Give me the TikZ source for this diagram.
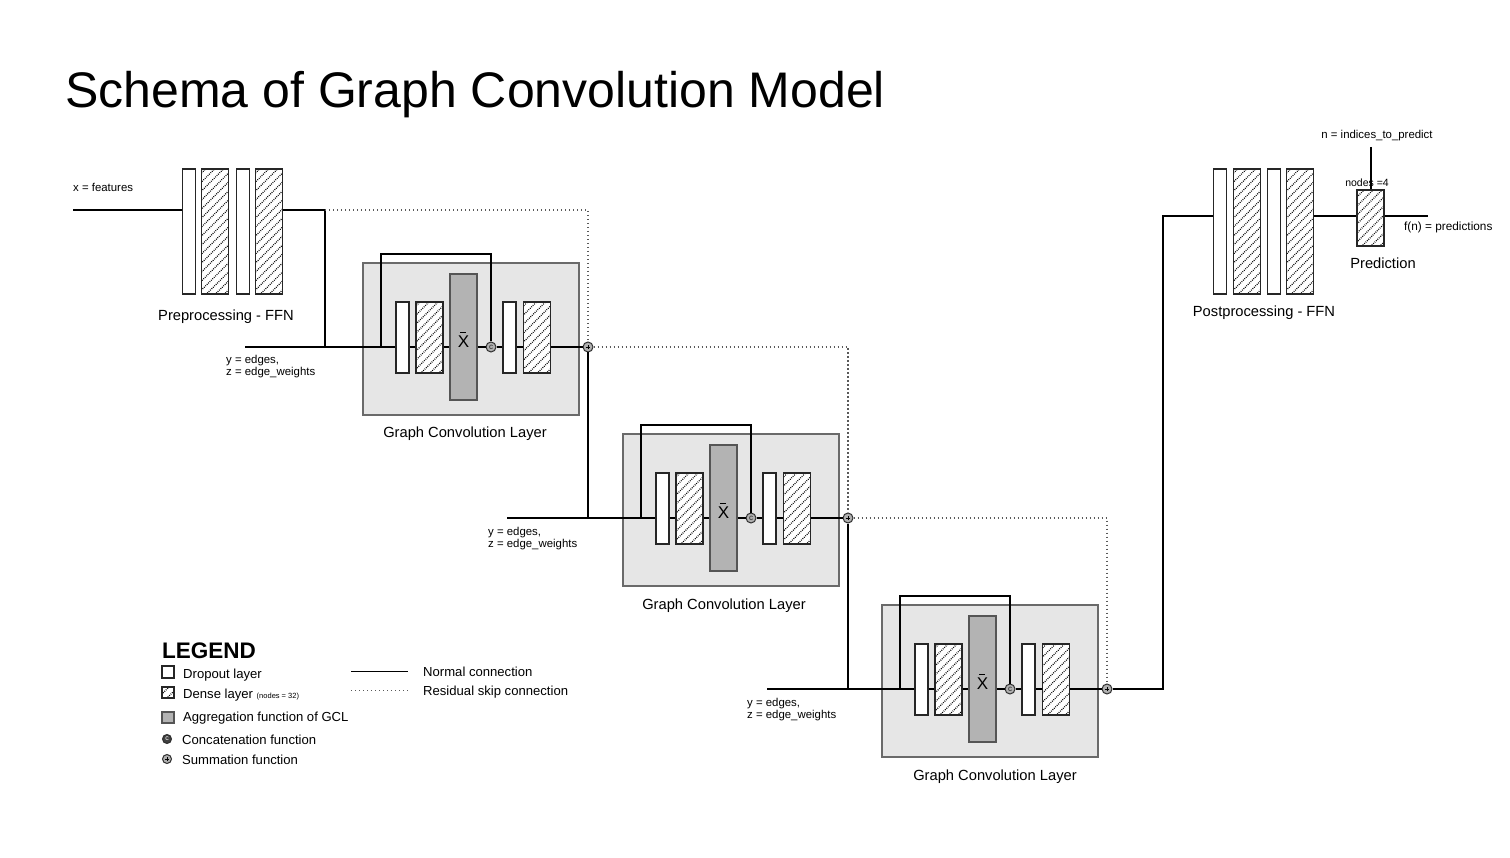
\documentclass[tikz,border=0pt]{standalone}
\usepackage{fontspec}
\setmainfont{Liberation Sans}
\definecolor{boxfill}{HTML}{E6E6E6}
\definecolor{boxline}{HTML}{6A6A6A}
\definecolor{aggfill}{HTML}{B3B3B3}
\definecolor{aggline}{HTML}{555555}
\definecolor{circfill}{HTML}{B0B0B0}
\definecolor{circline}{HTML}{303030}
\begin{document}
\begin{tikzpicture}[x=1pt,y=-1pt,
  conn/.style={draw=black, line width=1.2pt},
  thickconn/.style={draw=black, line width=2.2pt},
  skip/.style={draw=black!65, line width=1.3pt, dash pattern=on 1.3pt off 2.7pt},
  dotband/.style={black, line width=1.3pt, dash pattern=on 0.8pt off 1.2pt},
  dropout/.style={draw=black!85, fill=white, line width=1.1pt, inner sep=0pt, minimum width=13pt, minimum height=#1},
  dropout/.default=71pt,
  dense/.style={draw=black!85, fill=white, line width=1.1pt, inner sep=0pt, minimum width=27pt, minimum height=#1,
    path picture={\foreach \k in {-150,-141,...,40}{\draw[dotband] ([xshift=\k pt,yshift=-2pt]path picture bounding box.south west) -- ++(170pt,170pt);}}},
  dense/.default=71pt,
  agg/.style={draw=aggline, fill=aggfill, line width=1.1pt, inner sep=0pt, minimum width=27pt, minimum height=#1},
  agg/.default=126pt,
  gbox/.style={draw=boxline, fill=boxfill, line width=1.4pt, inner sep=0pt, minimum width=216pt, minimum height=152pt},
  catc/.style={circle, draw=circline, fill=circfill, line width=1pt, inner sep=0pt, minimum size=10pt, text=black!85,
    font=\fontsize{8}{8}\selectfont},
  sumc/.style={circle, draw=circline, fill=circfill, line width=1pt, inner sep=0pt, minimum size=10pt,
    path picture={\draw[black, line width=0.7pt] ([xshift=-2.3pt]path picture bounding box.center) -- ([xshift=2.3pt]path picture bounding box.center);
                  \draw[black, line width=0.7pt] ([yshift=-2.3pt]path picture bounding box.center) -- ([yshift=2.3pt]path picture bounding box.center);}},
  lbl/.style={inner sep=0pt, font=\fontsize{11.4}{13}\selectfont},
  mid/.style={inner sep=0pt, font=\fontsize{14.7}{17}\selectfont},
  leg/.style={inner sep=0pt, font=\fontsize{13.1}{15}\selectfont},
]
\useasboundingbox (0,0) rectangle (1510,858);

% title
\node[inner sep=0pt, anchor=base west, font=\fontsize{50}{56}\selectfont] (title) at (65,108) {Schema of Graph Convolution Model};

% preprocessing FFN
\node[dropout=125pt] (pp1) at (189,231.5) {};
\node[dense=125pt] (pp2) at (215,231.5) {};
\node[dropout=125pt] (pp3) at (243,231.5) {};
\node[dense=125pt] (pp4) at (269,231.5) {};
\node[mid, anchor=base] (pplbl) at (226,321) {Preprocessing - FFN};
\node[lbl, anchor=base west] (xlbl) at (73,192) {x = features};
\coordinate (xin) at (73,210);
\coordinate (j1) at (325,210);

% graph convolution layers
\foreach \i/\dx/\dy/\lx in {1/0/0/465, 2/260/171/464, 3/519/342/476}{
  \begin{scope}[shift={(\dx,\dy)}]
    \node[gbox] (g\i) at (471,339) {};
    \node[dropout] (g\i d1) at (402.5,337.5) {};
    \node[dense] (g\i n1) at (429.5,337.5) {};
    \node[agg] (g\i a) at (463.5,337) {};
    \node[inner sep=0pt, anchor=base, font=\fontsize{17}{19}\selectfont] (g\i x) at (463.5,347.5) {X};
    \draw[black, line width=1.2pt] ([xshift=-3.5pt,yshift=3pt]g\i x.north) -- ([xshift=2.5pt,yshift=3pt]g\i x.north);
    \node[dropout] (g\i d2) at (509.5,337.5) {};
    \node[dense] (g\i n2) at (537,337.5) {};
    \node[catc] (g\i c) at (491,347) {c};
    \node[sumc] (g\i s) at (588,347) {};
    \coordinate (g\i l) at (381,347);
    \coordinate (g\i t) at (381,254);
    \node[mid, anchor=base] (g\i lbl) at (\lx,438) {Graph Convolution Layer};
  \end{scope}
  \draw[conn] (g\i d1.east |- g\i c) -- (g\i n1.west |- g\i c);
  \draw[conn] (g\i n1.east |- g\i c) -- (g\i a.west |- g\i c);
  \draw[thickconn] (g\i a.east |- g\i c) -- (g\i c);
  \draw[thickconn] (g\i c) -- (g\i d2.west |- g\i c);
  \draw[conn] (g\i d2.east |- g\i c) -- (g\i n2.west |- g\i c);
  \draw[conn] (g\i n2.east |- g\i c) -- (g\i s);
  \draw[conn] (g\i l) -- (g\i t) -| (g\i c);
}

% edge inputs
\coordinate (e1) at (245,347);
\coordinate (e2) at (507,518);
\coordinate (e3) at (767,689);
\node[lbl, anchor=base west] (y1) at (226,364) {y = edges,};
\node[lbl, anchor=base west] (z1) at (226,376) {z = edge\_weights};
\node[lbl, anchor=base west] (y2) at (488,535) {y = edges,};
\node[lbl, anchor=base west] (z2) at (488,547) {z = edge\_weights};
\node[lbl, anchor=base west] (y3) at (747,706) {y = edges,};
\node[lbl, anchor=base west] (z3) at (747,718) {z = edge\_weights};

% connections
\draw[conn] (xin) -- (pp1.west |- xin);
\draw[conn] (pp4.east |- j1) -- (j1) -- (j1 |- g1c);
\draw[conn] (e1) -- (g1d1.west |- g1c);
\draw[skip] (j1) -| (g1s);

\draw[conn] (g1s) -- (g1s |- g2c) -- (g2d1.west |- g2c);
\draw[conn] (e2) -- (g1s |- g2c);
\draw[skip] (g1s) -- (g1s -| g2s) -- (g2s);

\draw[conn] (g2s) -- (g2s |- g3c) -- (g3d1.west |- g3c);
\draw[conn] (e3) -- (g2s |- g3c);
\draw[skip] (g2s) -- (g2s -| g3s) -- (g3s);

% postprocessing FFN
\node[dropout=125pt] (po1) at (1220,231.5) {};
\node[dense=125pt] (po2) at (1247,231.5) {};
\node[dropout=125pt] (po3) at (1274,231.5) {};
\node[dense=125pt] (po4) at (1300,231.5) {};
\node[mid, anchor=base] (polbl) at (1264,317) {Postprocessing - FFN};
\coordinate (k) at (1163,216);
\draw[conn] (g3s) -| (k) -- (po1.west |- k);

% prediction
\node[dense=56pt] (pr) at (1370.5,218) {};
\node[mid, anchor=base] (prlbl) at (1383,269) {Prediction};
\node[lbl, anchor=base, font=\fontsize{10.5}{12}\selectfont] (nodes4) at (1367,186.5) {nodes =4};
\node[lbl, anchor=base] (nlbl) at (1377,139) {n = indices\_to\_predict};
\node[lbl, anchor=base west, font=\fontsize{11.8}{13}\selectfont] (flbl) at (1404,231) {f(n) = predictions};
\coordinate (nin) at (1371,147);
\coordinate (fout) at (1428,216);
\draw[conn] (po4.east |- k) -- (pr.west |- k);
\draw[conn] (pr.east |- k) -- (fout);
\draw[conn] (nin) -- (nin |- pr.north);

% legend
\node[inner sep=0pt, anchor=base west, font=\fontsize{22.5}{25}\selectfont\bfseries] (legtitle) at (162,658) {LEGEND};
\node[dropout=12pt, minimum width=12pt] (lg1) at (168,672) {};
\node[dense=11pt, minimum width=12pt] (lg2) at (168,692.5) {};
\node[agg=11pt, minimum width=12pt] (lg3) at (168,717.5) {};
\node[catc, minimum size=9pt, fill=black!75, text=white, font=\fontsize{7}{7}\selectfont] (lg4) at (167,739) {c};
\node[sumc, minimum size=9pt] (lg5) at (167,759) {};
\node[leg, anchor=base west] (lt1) at (183,678) {Dropout layer};
\node[leg, anchor=base west] (lt2) at (183,698) {Dense layer {\fontsize{7.5}{8}\selectfont (nodes = 32)}};
\node[leg, anchor=base west] (lt3) at (183,721.5) {Aggregation function of GCL};
\node[leg, anchor=base west] (lt4) at (182,744) {Concatenation function};
\node[leg, anchor=base west] (lt5) at (182,764) {Summation function};
\coordinate (la1) at (351,671.5);
\coordinate (lb1) at (408,671.5);
\coordinate (la2) at (351,690.5);
\coordinate (lb2) at (408,690.5);
\draw[conn] (la1) -- (lb1);
\draw[skip, line width=1pt] (la2) -- (lb2);
\node[leg, anchor=base west] (lt6) at (423,676) {Normal connection};
\node[leg, anchor=base west] (lt7) at (423,695) {Residual skip connection};
\end{tikzpicture}
\end{document}
